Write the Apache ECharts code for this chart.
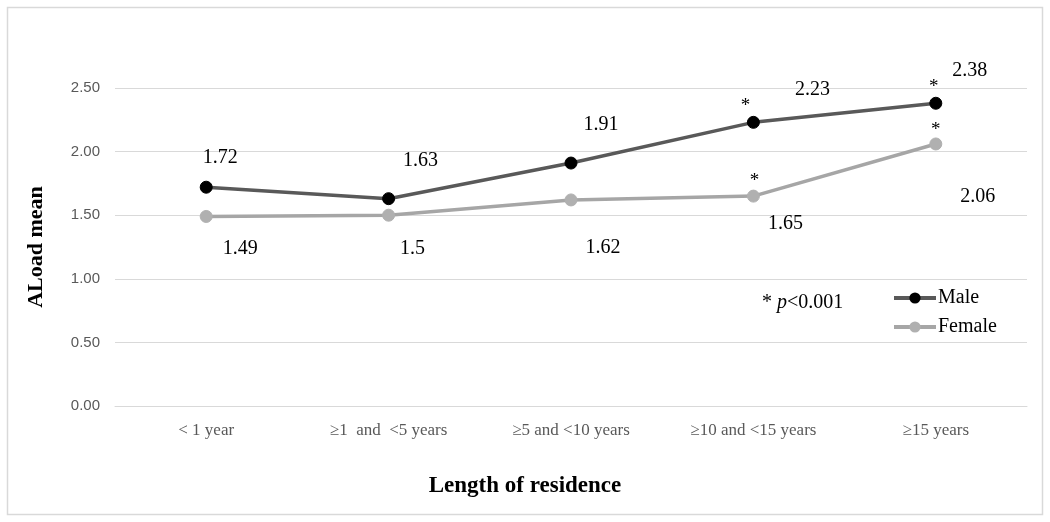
<!DOCTYPE html>
<html>
<head>
<meta charset="utf-8">
<script src="https://cdn.jsdelivr.net/npm/echarts@6/dist/echarts.min.js"></script>
<style>html,body{margin:0;padding:0;background:#fff;}#c{width:1050px;height:522px;}</style>
</head>
<body>
<div id="c"></div>
<script>
const categories = ['< 1 year', '\u22651  and  <5 years', '\u22655 and <10 years', '\u226510 and <15 years', '\u226515 years'];
const maleValues = [1.72, 1.63, 1.91, 2.23, 2.38];
const femaleValues = [1.49, 1.5, 1.62, 1.65, 2.06];
const maleSignificant = [false, false, false, true, true];
const femaleSignificant = [false, false, false, true, true];
const yTicks = [0, 0.5, 1, 1.5, 2, 2.5];

const serif = '"Liberation Serif", "Times New Roman", serif';
const sans = '"Liberation Sans", Arial, sans-serif';
const maleLabelOffsets = [[14,-29],[32,-38],[30,-38],[59,-33],[34,-33]];
const femaleLabelOffsets = [[34,32],[24,34],[32,48],[32,28],[42,53]];
const maleStarOffsets = [null,null,null,[-8,-16],[-2,-16]];
const femaleStarOffsets = [null,null,null,[1,-15],[0,-14]];

function buildData(values, offsets) {
  return values.map((v, i) => ({
    value: v,
    label: { show: true, position: 'inside', offset: offsets[i], formatter: String(v) }
  }));
}
function buildStars(values, sig, offsets) {
  const out = [];
  values.forEach((v, i) => {
    if (sig[i]) out.push({
      coord: [i, v], symbol: 'circle', symbolSize: 1,
      itemStyle: { color: 'rgba(0,0,0,0)' },
      label: { show: true, position: 'inside', offset: offsets[i], formatter: '*', color: '#000', fontSize: 19, fontFamily: serif }
    });
  });
  return out;
}

const chart = echarts.init(document.getElementById('c'));
chart.setOption({
  animation: false,
  backgroundColor: '#fff',
  grid: { left: 115, right: 23, top: 88, bottom: 116 },
  xAxis: {
    type: 'category', data: categories, boundaryGap: true,
    axisLine: { lineStyle: { color: '#d9d9d9' } },
    axisTick: { show: false },
    axisLabel: { color: '#595959', fontFamily: serif, fontSize: 17, margin: 16, interval: 0 }
  },
  yAxis: {
    type: 'value', min: 0, max: 2.5, interval: 0.5,
    name: 'ALoad mean', nameLocation: 'middle', nameGap: 68,
    nameTextStyle: { fontFamily: serif, fontSize: 22, fontWeight: 'bold', color: '#000' },
    axisLine: { show: false }, axisTick: { show: false },
    axisLabel: { color: '#595959', fontFamily: sans, fontSize: 15, margin: 15,
      formatter: v => yTicks.includes(v) ? v.toFixed(2) : '' },
    splitLine: { lineStyle: { color: '#d9d9d9', width: 1 } }
  },
  legend: {
    orient: 'vertical', left: 887, top: 283, itemWidth: 42, itemHeight: 14, itemGap: 9,
    textStyle: { fontFamily: serif, fontSize: 20, color: '#000', padding: [0,0,0,-3] },
    data: [
      { name: 'Male', lineStyle: { width: 4, color: '#595959' }, itemStyle: { color: '#000' } },
      { name: 'Female', lineStyle: { width: 4, color: '#a6a6a6' }, itemStyle: { color: '#b0b0b0' } }
    ]
  },
  series: [
    {
      name: 'Male', type: 'line', data: buildData(maleValues, maleLabelOffsets),
      symbol: 'circle', symbolSize: 12,
      lineStyle: { color: '#595959', width: 3.5 },
      itemStyle: { color: '#000', borderColor: '#000' },
      label: { color: '#000', fontFamily: serif, fontSize: 20 },
      markPoint: { data: buildStars(maleValues, maleSignificant, maleStarOffsets) },
      z: 3
    },
    {
      name: 'Female', type: 'line', data: buildData(femaleValues, femaleLabelOffsets),
      symbol: 'circle', symbolSize: 12,
      lineStyle: { color: '#a6a6a6', width: 3.5 },
      itemStyle: { color: '#b0b0b0', borderColor: '#b0b0b0' },
      label: { color: '#000', fontFamily: serif, fontSize: 20 },
      markPoint: { data: buildStars(femaleValues, femaleSignificant, femaleStarOffsets) },
      z: 2
    }
  ],
  graphic: [
    { type: 'rect', shape: { x: 7.5, y: 7.5, width: 1035, height: 507 },
      style: { fill: 'none', stroke: '#d9d9d9', lineWidth: 1.5 }, silent: true, z: -1 },
    { type: 'text', left: 'center', top: 475,
      style: { text: 'Length of residence', fontFamily: serif, fontSize: 23, fontWeight: 'bold', fill: '#000' } },
    { type: 'text', left: 762, top: 293,
      style: { text: '{s|* }{p|p}{t|<0.001}', fill: '#000',
        rich: { s: { fontFamily: serif, fontSize: 20 }, p: { fontFamily: serif, fontSize: 20, fontStyle: 'italic' }, t: { fontFamily: serif, fontSize: 20 } } } }
  ]
});
</script>
</body>
</html>
